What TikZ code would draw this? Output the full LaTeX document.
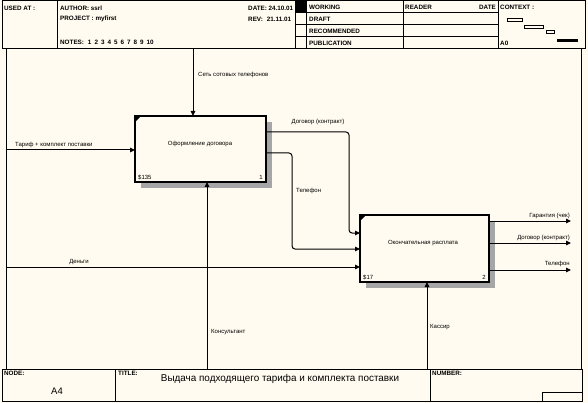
\documentclass[tikz,border=0pt]{standalone}
\usepackage{fontspec}
\setmainfont{Liberation Sans}
\usetikzlibrary{arrows.meta,calc}
\definecolor{bg}{HTML}{FFFBF0}
\pgfdeclarelayer{back}
\pgfsetlayers{back,main}
\begin{document}
\begin{tikzpicture}[x=1pt,y=-1pt,
  frame/.style={draw=black,line width=1pt},
  fbox/.style={draw=black,line width=2pt,fill=bg,inner sep=0pt,outer sep=0pt},
  arr/.style={draw=black,line width=1pt,-{Triangle[length=5pt,width=4.5pt]}},
  lbl/.style={font=\fontsize{6}{7}\selectfont,inner sep=0pt},
  hdr/.style={font=\bfseries\fontsize{6.3}{7}\selectfont,inner sep=0pt,anchor=west},
  shd/.style={fill=black!35},
  ctx/.style={draw=black,line width=0.8pt}]
\useasboundingbox (0,0) rectangle (588,403);
\begin{pgfonlayer}{back}
\fill[bg] (0,0) rectangle (588,403);
\end{pgfonlayer}

% header
\draw[frame] (2,1) rectangle (585,49);
\draw[frame] (57,1) -- (57,49);
\draw[frame] (295,1) -- (295,49);
\draw[frame] (306,1) -- (306,49);
\draw[frame] (403,1) -- (403,49);
\draw[frame] (498,1) -- (498,49);
\draw[frame] (295,13) -- (498,13);
\draw[frame] (295,25) -- (498,25);
\draw[frame] (295,37) -- (498,37);
\fill (295,1) rectangle (306,13);
\node[hdr] (usedat) at (4,8) {USED AT :};
\node[hdr] (author) at (60,8) {AUTHOR: ssrl};
\node[hdr] (project) at (60,19) {PROJECT : myfirst};
\node[hdr] (notes) at (60,42) {NOTES:\hspace{4pt}1\hspace{3pt}2\hspace{3pt}3\hspace{3pt}4\hspace{3pt}5\hspace{3pt}6\hspace{3pt}7\hspace{3pt}8\hspace{3pt}9\hspace{3pt}10};
\node[hdr] (date) at (248,8) {DATE: 24.10.01};
\node[hdr] (rev) at (248,19) {REV:\hspace{4pt}21.11.01};
\node[hdr] (working) at (309,7) {WORKING};
\node[hdr] (draft) at (309,19) {DRAFT};
\node[hdr] (recom) at (309,31) {RECOMMENDED};
\node[hdr] (publ) at (309,43) {PUBLICATION};
\node[hdr] (reader) at (405,7) {READER};
\node[hdr,anchor=east] (rdate) at (496,7) {DATE};
\node[hdr] (context) at (500,7) {CONTEXT :};
\node[hdr] (a0) at (500,43) {A0};
\draw[ctx] (507,18) rectangle (522,21);
\draw[ctx] (524,25) rectangle (543,28);
\draw[ctx] (546,30) rectangle (554,33);
\fill (557,39) rectangle (578,42);

% main frame sides
\draw[frame] (6.5,49) -- (6.5,369);
\draw[frame] (581.5,49) -- (581.5,369);

% footer
\draw[frame] (2,369) rectangle (582,401);
\draw[frame] (115,369) -- (115,401);
\draw[frame] (430,369) -- (430,401);
\draw[frame] (542,401) -- (542,392) -- (582,392);
\node[hdr] (nodel) at (4,373) {NODE:};
\node[hdr] (titlel) at (118,373) {TITLE:};
\node[hdr] (numl) at (432,373) {NUMBER:};
\node[font=\fontsize{9.5}{10}\selectfont,inner sep=0pt] (nodeno) at (57,391) {A4};
\node[font=\fontsize{9.9}{11}\selectfont,inner sep=0pt] (title) at (280,379) {Выдача подходящего тарифа и комплекта поставки};

% boxes
\node[fbox,minimum width=131pt,minimum height=66pt] (b1) at (200.5,149) {};
\node[fbox,minimum width=129pt,minimum height=67pt] (b2) at (424.5,248.5) {};
\begin{pgfonlayer}{back}
\fill[shd] ($(b1.north east)+(0,6)$) rectangle ($(b1.south east)+(6,6)$);
\fill[shd] ($(b1.south west)+(6,0)$) rectangle ($(b1.south east)+(6,6)$);
\fill[shd] ($(b2.north east)+(0,6)$) rectangle ($(b2.south east)+(6,6)$);
\fill[shd] ($(b2.south west)+(6,0)$) rectangle ($(b2.south east)+(6,6)$);
\end{pgfonlayer}
\fill (b1.north west) -- ++(6,0) -- ++(-6,6) -- cycle;
\fill (b2.north west) -- ++(6,0) -- ++(-6,6) -- cycle;
\node[lbl] (b1t) at (200,144) {Оформление договора};
\node[lbl] (b2t) at (423,243) {Окончательная расплата};
\node[lbl,anchor=south west] (b1c) at ($(b1.south west)+(3,-2)$) {\$135};
\node[lbl,anchor=south east] (b1n) at ($(b1.south east)+(-3,-2)$) {1};
\node[lbl,anchor=south west] (b2c) at ($(b2.south west)+(3,-2)$) {\$17};
\node[lbl,anchor=south east] (b2n) at ($(b2.south east)+(-3,-2)$) {2};

% boundary coordinates
\coordinate (c1) at (193,49.5);
\coordinate (i1) at (7,150);
\coordinate (i2) at (7,267);
\coordinate (m1) at (207,368.5);
\coordinate (m2) at (427,368.5);
\coordinate (o1) at (571,221);
\coordinate (o2) at (571,243);
\coordinate (o3) at (571,270);

% connectors
\draw[arr] (c1) -- (c1 |- b1.north);
\draw[arr] (i1) -- (i1 -| b1.west);
\draw[arr] (m1) -- (m1 |- b1.south);
\draw[arr] (m2) -- (m2 |- b2.south);
\draw[arr] (i2) -- (i2 -| b2.west);
\draw[arr,rounded corners=3pt] (b1.east |- 0,132) -- (349,132) -- (349,233) -- (b2.west |- 0,233);
\draw[arr,rounded corners=3pt] (b1.east |- 0,153) -- (292,153) -- (292,249) -- (b2.west |- 0,249);
\draw[arr] (b2.east |- o1) -- (o1);
\draw[arr] (b2.east |- o2) -- (o2);
\draw[arr] (b2.east |- o3) -- (o3);

% labels
\node[lbl,anchor=west] (l1) at (198,75) {Сеть сотовых телефонов};
\node[lbl,anchor=west] (l2) at (15,145) {Тариф + комплект поставки};
\node[lbl,anchor=west] (l3) at (211,332) {Консультант};
\node[lbl,anchor=west] (l4) at (430,327) {Кассир};
\node[lbl] (l5) at (79,262) {Деньги};
\node[lbl] (l6) at (318,122) {Договор (контракт)};
\node[lbl,anchor=west] (l7) at (296,191) {Телефон};
\node[lbl,anchor=east] (l8) at (570,216) {Гарантия (чек)};
\node[lbl,anchor=east] (l9) at (570,238) {Договор (контракт)};
\node[lbl,anchor=east] (l10) at (570,264) {Телефон};
\end{tikzpicture}
\end{document}
